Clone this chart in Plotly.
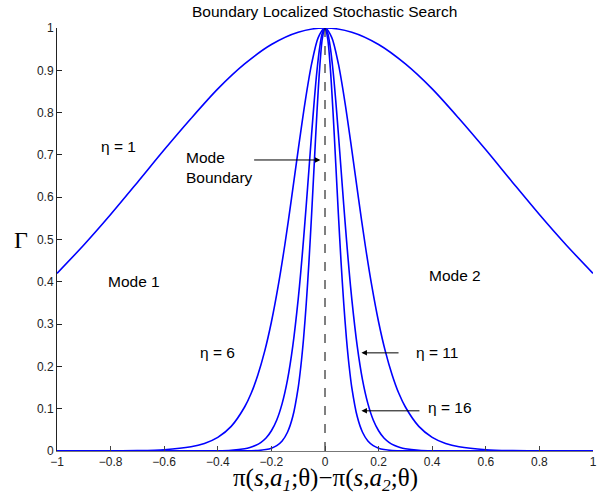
import plotly.graph_objects as go

# eta = 1
x1 = [-1.0, -0.9, -0.8, -0.7, -0.6, -0.5, -0.4, -0.3, -0.2, -0.1, 0.0,
      0.1, 0.2, 0.3, 0.4, 0.5, 0.6, 0.7, 0.8, 0.9, 1.0]
g1 = [0.420, 0.487, 0.559, 0.635, 0.712, 0.786, 0.856, 0.915, 0.961, 0.990, 1.0,
      0.990, 0.961, 0.915, 0.856, 0.786, 0.712, 0.635, 0.559, 0.487, 0.420]

# eta = 6
x6 = [-1.0, -0.8, -0.7, -0.6, -0.5, -0.45, -0.4, -0.35, -0.3, -0.275, -0.25, -0.225, -0.2,
      -0.175, -0.15, -0.125, -0.1, -0.075, -0.05, -0.025, 0.0,
      0.025, 0.05, 0.075, 0.1, 0.125, 0.15, 0.175, 0.2, 0.225, 0.25, 0.275, 0.3,
      0.35, 0.4, 0.45, 0.5, 0.6, 0.7, 0.8, 1.0]
g6 = [0.0, 0.0003, 0.0009, 0.0030, 0.0099, 0.0179, 0.0323, 0.0582, 0.104, 0.137, 0.181, 0.236, 0.305,
      0.389, 0.487, 0.597, 0.712, 0.822, 0.915, 0.978, 1.0,
      0.978, 0.915, 0.822, 0.712, 0.597, 0.487, 0.389, 0.305, 0.236, 0.181, 0.137, 0.104,
      0.0582, 0.0323, 0.0179, 0.0099, 0.0030, 0.0009, 0.0003, 0.0]

# eta = 11
x11 = [-1.0, -0.5, -0.4, -0.35, -0.3, -0.28, -0.26, -0.24, -0.22, -0.2, -0.18, -0.16, -0.14, -0.12,
       -0.1, -0.09, -0.08, -0.07, -0.06, -0.05, -0.04, -0.03, -0.02, -0.01, 0.0,
       0.01, 0.02, 0.03, 0.04, 0.05, 0.06, 0.07, 0.08, 0.09, 0.1,
       0.12, 0.14, 0.16, 0.18, 0.2, 0.22, 0.24, 0.26, 0.28, 0.3, 0.35, 0.4, 0.5, 1.0]
g11 = [0.0, 0.0001, 0.0006, 0.0018, 0.0054, 0.0084, 0.0131, 0.0200, 0.0307, 0.0479, 0.0734, 0.112, 0.168, 0.249,
       0.359, 0.426, 0.501, 0.581, 0.665, 0.749, 0.829, 0.899, 0.953, 0.988, 1.0,
       0.988, 0.953, 0.899, 0.829, 0.749, 0.665, 0.581, 0.501, 0.426, 0.359,
       0.249, 0.168, 0.112, 0.0734, 0.0479, 0.0307, 0.0200, 0.0131, 0.0084, 0.0054, 0.0018, 0.0006, 0.0001, 0.0]

# eta = 16
x16 = [-1.0, -0.3, -0.25, -0.22, -0.2, -0.18, -0.16, -0.14, -0.12, -0.1, -0.09, -0.08, -0.07, -0.06,
       -0.05, -0.04, -0.03, -0.02, -0.01, 0.0,
       0.01, 0.02, 0.03, 0.04, 0.05, 0.06, 0.07, 0.08, 0.09, 0.1, 0.12, 0.14,
       0.16, 0.18, 0.2, 0.22, 0.25, 0.3, 1.0]
g16 = [0.0, 0.0003, 0.0013, 0.0035, 0.0066, 0.0126, 0.0236, 0.0443, 0.082, 0.150, 0.201, 0.266, 0.348, 0.446,
       0.559, 0.681, 0.801, 0.904, 0.975, 1.0,
       0.975, 0.904, 0.801, 0.681, 0.559, 0.446, 0.348, 0.266, 0.201, 0.150, 0.082, 0.0443,
       0.0236, 0.0126, 0.0066, 0.0035, 0.0013, 0.0003, 0.0]

x_ticks = [-1, -0.8, -0.6, -0.4, -0.2, 0, 0.2, 0.4, 0.6, 0.8, 1]
x_tick_labels = ["\u22121", "\u22120.8", "\u22120.6", "\u22120.4", "\u22120.2", "0",
                 "0.2", "0.4", "0.6", "0.8", "1"]
y_ticks = [0, 0.1, 0.2, 0.3, 0.4, 0.5, 0.6, 0.7, 0.8, 0.9, 1]
y_tick_labels = ["0", "0.1", "0.2", "0.3", "0.4", "0.5", "0.6", "0.7", "0.8", "0.9", "1"]

blue = "#0000ff"
sans = "Liberation Sans, Arial, sans-serif"
serif = "Liberation Serif, Times New Roman, serif"

fig = go.Figure()
for xs, ys in [(x1, g1), (x6, g6), (x11, g11), (x16, g16)]:
    fig.add_trace(go.Scatter(x=xs, y=ys, mode="lines",
                             line=dict(color=blue, width=1.6, shape="spline", smoothing=0.8),
                             showlegend=False, hoverinfo="skip"))

# dashed mode boundary
fig.add_trace(go.Scatter(x=[0, 0], y=[0, 1], mode="lines",
                         line=dict(color="black", width=1, dash="dash"),
                         showlegend=False, hoverinfo="skip"))

txt = dict(family=sans, size=15.5, color="black")
ann = []
def label(x, y, t, align="center"):
    ann.append(dict(x=x, y=y, xref="x", yref="y", text=t, showarrow=False,
                    font=txt, align=align, xanchor="center", yanchor="middle"))

def arrow(x0, y0, x1_, y1_):
    ann.append(dict(x=x1_, y=y1_, ax=x0, ay=y0, xref="x", yref="y", axref="x", ayref="y",
                    text="", showarrow=True, arrowhead=2, arrowsize=1.1, arrowwidth=1,
                    arrowcolor="black"))

label(-0.77, 0.72, "\u03b7 = 1")
label(-0.395, 0.67, "Mode<br>Boundary", align="left")
arrow(-0.27, 0.688, -0.017, 0.688)
label(-0.713, 0.40, "Mode 1")
label(0.485, 0.414, "Mode 2")
label(-0.40, 0.234, "\u03b7 = 6")
label(0.418, 0.234, "\u03b7 = 11")
arrow(0.28, 0.232, 0.136, 0.232)
label(0.466, 0.102, "\u03b7 = 16")
arrow(0.358, 0.095, 0.136, 0.095)

# title and axis titles (pixel positions, converted below)
ann.append(dict(x=324, y=501 - 12, xref="paper", yref="paper", text="Boundary Localized Stochastic Search",
                showarrow=False, xanchor="center", yanchor="middle",
                font=dict(family=sans, size=15.5, color="black")))
ann.append(dict(x=325, y=501 - 479, xref="paper", yref="paper",
                text="\u03c0(<i>s</i>,<i>a</i><sub><i>1</i></sub>;\u03b8)\u2212\u03c0(<i>s</i>,<i>a</i><sub><i>2</i></sub>;\u03b8)",
                showarrow=False, xanchor="center", yanchor="middle",
                font=dict(family=serif, size=25, color="black")))
ann.append(dict(x=21, y=501 - 240, xref="paper", yref="paper", text="\u0393",
                showarrow=False, xanchor="center", yanchor="middle",
                font=dict(family=serif, size=24, color="black")))

L, R, T, B = 57, 13, 28, 50
W, H = 606, 501
pw, ph = W - L - R, H - T - B
for a in ann:
    if a.get("xref") == "paper":
        a["x"] = (a["x"] - L) / pw
        a["y"] = (a["y"] - B) / ph

fig.update_layout(
    width=W, height=H,
    margin=dict(l=L, r=R, t=T, b=B),
    paper_bgcolor="white", plot_bgcolor="white",
    annotations=ann,
    xaxis=dict(range=[-1, 1], tickvals=x_ticks, ticktext=x_tick_labels, automargin=False,
               ticks="inside", ticklen=5, tickcolor="#444", showgrid=False, zeroline=False,
               showline=True, linecolor="#777", linewidth=1,
               tickfont=dict(family=sans, size=12, color="#222")),
    yaxis=dict(range=[0, 1], tickvals=y_ticks, ticktext=y_tick_labels, automargin=False,
               ticks="inside", ticklen=5, tickcolor="#222", showgrid=False, zeroline=False,
               showline=True, linecolor="#222", linewidth=1,
               tickfont=dict(family=sans, size=12, color="#222")),
)

fig.write_html("out.html", config={"displayModeBar": False},
               post_script="document.body.style.margin='0';")
